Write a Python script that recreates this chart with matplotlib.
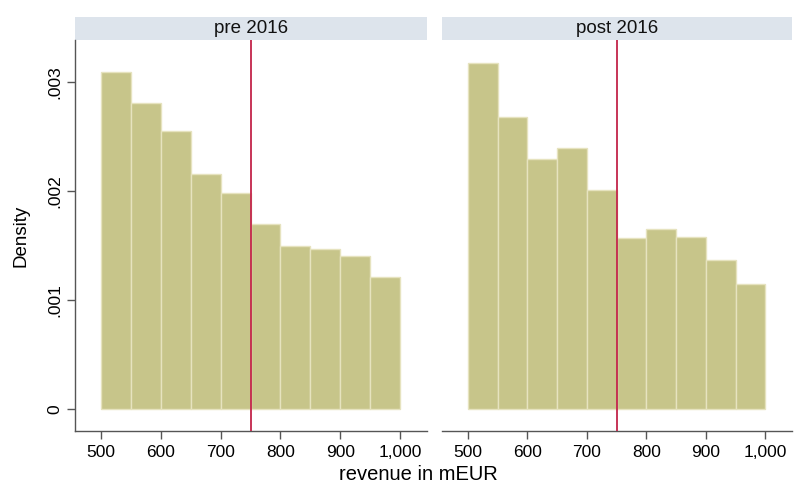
import matplotlib
matplotlib.use("Agg")
import matplotlib.pyplot as plt
from matplotlib.patches import Rectangle
import numpy as np

plt.rcParams['font.family'] = ['Liberation Sans', 'DejaVu Sans']

bin_edges = [500, 550, 600, 650, 700, 750, 800, 850, 900, 950, 1000]
pre_density = [0.00310, 0.00281, 0.00255, 0.00216, 0.00198, 0.00170, 0.00150, 0.00147, 0.00140, 0.00121]
post_density = [0.00318, 0.00268, 0.00230, 0.00240, 0.00201, 0.00157, 0.00165, 0.00158, 0.00137, 0.00115]
panel_titles = ["pre 2016", "post 2016"]
cutoff = 750
x_ticks = [500, 600, 700, 800, 900, 1000]
x_labels = ["500", "600", "700", "800", "900", "1,000"]
y_ticks = [0, 0.001, 0.002, 0.003]
y_labels = ["0", ".001", ".002", ".003"]

W, H = 798, 483
fig = plt.figure(figsize=(W / 100, H / 100), dpi=100)
fig.patch.set_facecolor("white")

bottom_px, top_px = 431, 40
panels_px = [(75, 427), (442, 792)]
bar_color = "#c7c58a"
edge_color = "#e6e3bf"
strip_color = "#dde4ec"
line_color = "#c3244a"
axis_color = "#555555"

axes = []
for i, (x0, x1) in enumerate(panels_px):
    ax = fig.add_axes([x0 / W, 1 - bottom_px / H, (x1 - x0) / W, (bottom_px - top_px) / H])
    axes.append(ax)
    data = pre_density if i == 0 else post_density
    lefts = bin_edges[:-1]
    widths = np.diff(bin_edges)
    ax.bar(lefts, data, width=widths, align="edge", color=bar_color,
           edgecolor=edge_color, linewidth=1.0)
    ax.axvline(cutoff, color=line_color, linewidth=1.3, zorder=3)
    ax.set_xlim(456.5, 1045)
    ax.set_ylim(-0.000204, 0.00339)
    ax.set_xticks(x_ticks)
    ax.set_xticklabels(x_labels, fontsize=12.5)
    for s in ["top", "right"]:
        ax.spines[s].set_visible(False)
    ax.spines["bottom"].set_color(axis_color)
    ax.spines["bottom"].set_linewidth(1.0)
    ax.tick_params(axis="x", direction="out", length=6, width=1, color=axis_color, pad=4)
    if i == 0:
        ax.set_yticks(y_ticks)
        ax.set_yticklabels(y_labels, fontsize=12.5, rotation=90, va="center")
        ax.spines["left"].set_color(axis_color)
        ax.spines["left"].set_linewidth(1.0)
        ax.tick_params(axis="y", direction="out", length=6, width=1, color=axis_color, pad=3)
        ax.set_ylabel("Density", fontsize=13.5, labelpad=13)
    else:
        ax.spines["left"].set_visible(False)
        ax.set_yticks([])
    # title strip
    strip_h = 23 / (bottom_px - top_px)
    rect = Rectangle((0, 1.0), 1, strip_h, transform=ax.transAxes, facecolor=strip_color,
                     edgecolor="none", clip_on=False)
    ax.add_patch(rect)
    ax.text(0.5, 1 + strip_h / 2, panel_titles[i], transform=ax.transAxes,
            ha="center", va="center", fontsize=13.5, color="#111111")

fig.text(418 / W, 1 - 474 / H, "revenue in mEUR", ha="center", va="center", fontsize=14.5)

fig.savefig("out.png", dpi=100, facecolor="white")
